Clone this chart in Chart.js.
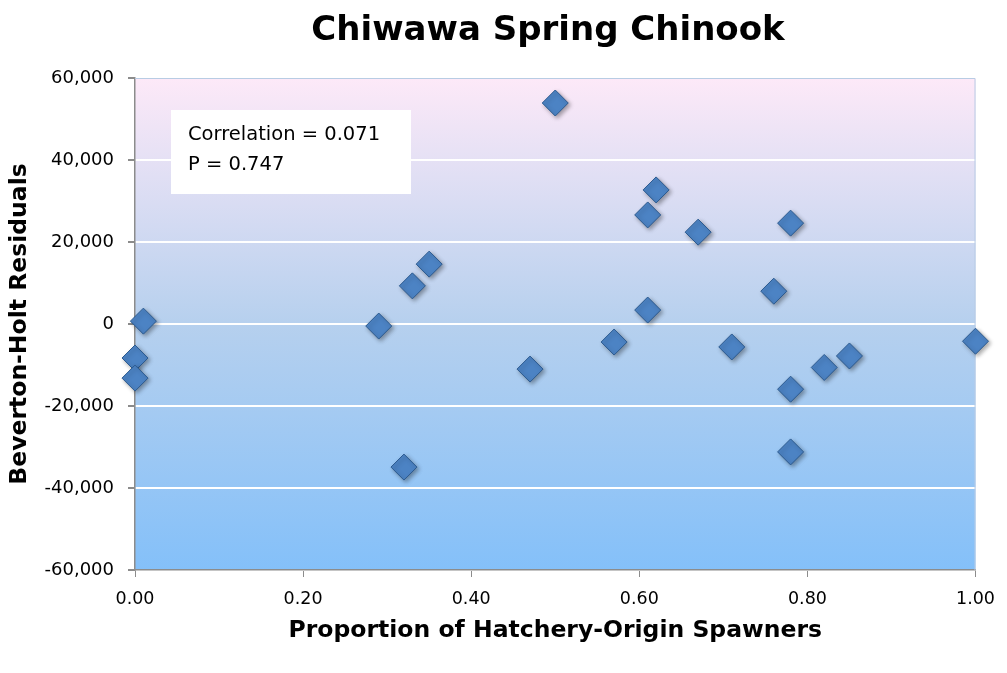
<!DOCTYPE html>
<html>
<head>
<meta charset="utf-8">
<script src="https://cdn.jsdelivr.net/npm/chart.js@4/dist/chart.umd.min.js"></script>
<style>
  html, body { margin: 0; padding: 0; background: #fff; }
  #wrap { width: 1007px; height: 673px; position: relative; }
</style>
</head>
<body>
<div id="wrap"><canvas id="myChart"></canvas></div>
<script>
const ctx = document.querySelector('#myChart');

// proportion of hatchery-origin spawners
const hatcheryProp = [0.01, 0.00, 0.00, 0.29, 0.32, 0.33, 0.35, 0.47, 0.50, 0.57, 0.61, 0.61, 0.62, 0.67, 0.71, 0.76, 0.78, 0.78, 0.78, 0.82, 0.85, 1.00];
// Beverton-Holt residuals
const residuals = [700, -8300, -13200, -500, -34900, 9300, 14600, -11000, 53900, -4400, 26600, 3400, 32700, 22400, -5600, 8000, 24600, -15900, -31200, -10600, -7800, -4200];

const xTicks = [0, 0.2, 0.4, 0.6, 0.8, 1.0];
const yTicks = [-60000, -40000, -20000, 0, 20000, 40000, 60000];

const statLines = ['Correlation = 0.071', 'P = 0.747'];

const fontFamily = "'DejaVu Sans', sans-serif";

const data = hatcheryProp.map((x, i) => ({ x, y: residuals[i] }));

const plotBackground = {
    id: 'plotBackground',
    beforeDraw(chart) {
        const { ctx, chartArea: a } = chart;
        const g = ctx.createLinearGradient(0, a.top, 0, a.bottom);
        g.addColorStop(0, '#fde9f8');
        g.addColorStop(0.5, '#b6d0ee');
        g.addColorStop(1, '#84c0f9');
        ctx.save();
        ctx.fillStyle = g;
        ctx.fillRect(a.left, a.top, a.right - a.left, a.bottom - a.top);
        ctx.restore();
    },
    beforeDatasetsDraw(chart) {
        // thin frame on top and right of the plot
        const { ctx, chartArea: a } = chart;
        ctx.save();
        ctx.strokeStyle = '#b8cce4';
        ctx.lineWidth = 1;
        ctx.beginPath();
        ctx.moveTo(a.left, a.top + 0.5);
        ctx.lineTo(a.right - 0.5, a.top + 0.5);
        ctx.lineTo(a.right - 0.5, a.bottom);
        ctx.stroke();
        ctx.restore();
    }
};

const markerShadow = {
    id: 'markerShadow',
    beforeDatasetsDraw(chart) {
        const c = chart.ctx;
        c.save();
        c.shadowColor = 'rgba(0,0,0,0.35)';
        c.shadowBlur = 4;
        c.shadowOffsetX = 2;
        c.shadowOffsetY = 2;
    },
    afterDatasetsDraw(chart) {
        chart.ctx.restore();
    }
};

const overlay = {
    id: 'overlay',
    afterDraw(chart) {
        const c = chart.ctx;
        c.save();
        // chart title
        c.fillStyle = '#000';
        c.font = "bold 34px " + fontFamily;
        c.textAlign = 'center';
        c.textBaseline = 'middle';
        c.fillText('Chiwawa Spring Chinook', 548, 31);
        // stats box
        c.fillStyle = '#ffffff';
        c.fillRect(171, 110, 240, 84);
        c.fillStyle = '#000';
        c.font = "19.5px " + fontFamily;
        c.textAlign = 'left';
        c.fillText(statLines[0], 188, 135);
        c.fillText(statLines[1], 188, 165);
        c.restore();
    }
};

new Chart(ctx, {
    type: 'scatter',
    data: {
        datasets: [{
            data,
            pointStyle: 'rectRot',
            pointRadius: 13,
            pointHoverRadius: 13,
            backgroundColor: '#4c83c4',
            borderColor: '#2c5a8f',
            borderWidth: 1,
            clip: false
        }]
    },
    plugins: [plotBackground, markerShadow, overlay],
    options: {
        responsive: true,
        maintainAspectRatio: false,
        animation: false,
        layout: { padding: { top: 78, right: 27, left: 0, bottom: 0 } },
        plugins: {
            legend: { display: false },
            title: { display: false },
            tooltip: { enabled: false }
        },
        scales: {
            x: {
                type: 'linear',
                min: 0,
                max: 1,
                afterBuildTicks: s => { s.ticks = xTicks.map(v => ({ value: v })); },
                afterFit: s => { s.height = 103; },
                ticks: {
                    color: '#000',
                    font: { family: fontFamily, size: 17.5 },
                    padding: 12,
                    callback: v => v.toFixed(2)
                },
                grid: {
                    drawOnChartArea: false,
                    color: '#8c8c8c',
                    tickLength: 7
                },
                border: { color: '#8c8c8c', width: 1.5 },
                title: {
                    display: true,
                    text: 'Proportion of Hatchery-Origin Spawners',
                    color: '#000',
                    font: { family: fontFamily, size: 23.5, weight: 'bold' },
                    padding: { top: 0, bottom: 28 }
                }
            },
            y: {
                min: -60000,
                max: 60000,
                afterBuildTicks: s => { s.ticks = yTicks.map(v => ({ value: v })); },
                afterFit: s => { s.width = 135; },
                ticks: {
                    color: '#000',
                    font: { family: fontFamily, size: 18 },
                    padding: 14,
                    callback: v => v.toLocaleString('en-US')
                },
                grid: {
                    color: ctx => ctx.tick && ctx.tick.value === 60000 ? 'rgba(0,0,0,0)' : '#ffffff',
                    lineWidth: 2,
                    tickColor: '#8c8c8c',
                    tickLength: 7
                },
                border: { color: '#8c8c8c', width: 1.5 },
                title: {
                    display: true,
                    text: 'Beverton-Holt Residuals',
                    color: '#000',
                    font: { family: fontFamily, size: 23.5, weight: 'bold' },
                    padding: { top: 6, bottom: 0 }
                }
            }
        }
    }
});
</script>
</body>
</html>
